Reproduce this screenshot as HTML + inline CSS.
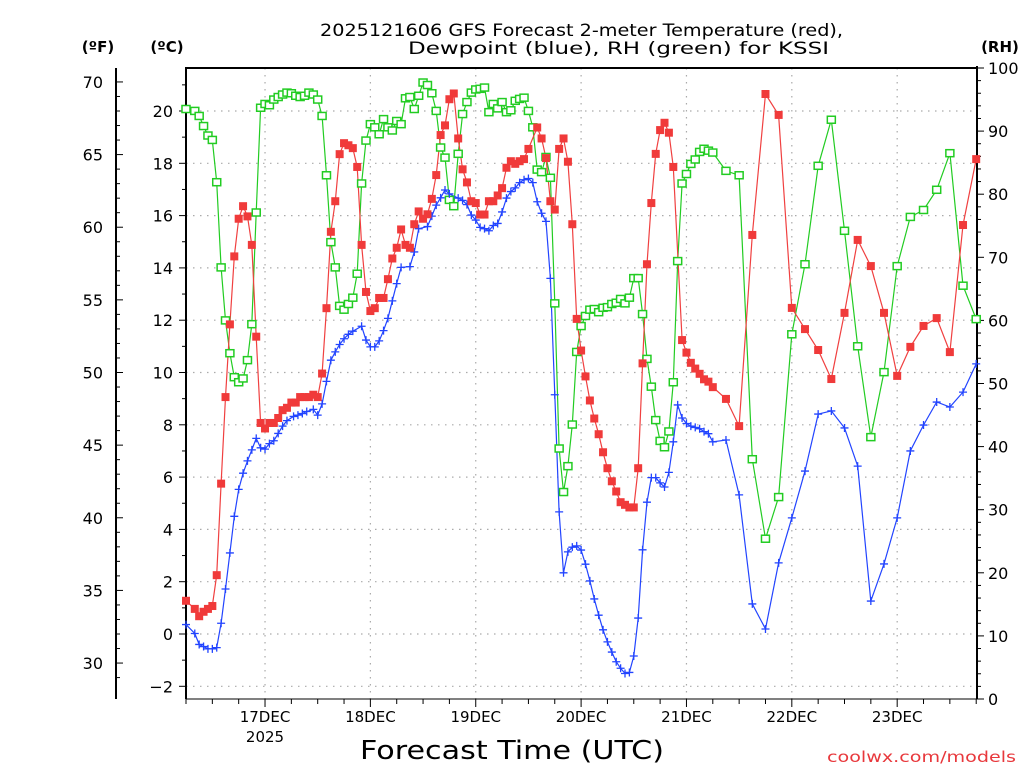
<!DOCTYPE html>
<html><head><meta charset="utf-8"><style>
html,body{margin:0;padding:0;background:#fff;}
svg{display:block;font-family:"DejaVu Sans","Liberation Sans",sans-serif;}
</style></head><body>
<svg id="chart" width="1024" height="768" viewBox="0 0 1024 768">
<text x="320" y="36" textLength="523" lengthAdjust="spacingAndGlyphs" font-size="17">2025121606 GFS Forecast 2-meter Temperature (red),</text>
<text x="408" y="54" textLength="421" lengthAdjust="spacingAndGlyphs" font-size="17">Dewpoint (blue), RH (green) for KSSI</text>
<text x="98" y="52" text-anchor="middle" font-size="15" font-weight="bold">(ºF)</text>
<text x="167" y="52" text-anchor="middle" font-size="15" font-weight="bold">(ºC)</text>
<text x="1000" y="52" text-anchor="middle" font-size="15" font-weight="bold">(RH)</text>
<text x="360" y="759" textLength="304" lengthAdjust="spacingAndGlyphs" font-size="26">Forecast Time (UTC)</text>
<text x="827" y="762" textLength="189" lengthAdjust="spacingAndGlyphs" font-size="15" fill="#e8383c">coolwx.com/models</text>
<g id="grid"></g><g id="axes"></g><g id="series"></g>
</svg>
<script>
const dayLabels = ["17DEC","18DEC","19DEC","20DEC","21DEC","22DEC","23DEC"];
const dayHours = [18,42,66,90,114,138,162];
const cTicks = [-2,0,2,4,6,8,10,12,14,16,18,20];
const fTicks = [30,35,40,45,50,55,60,65,70];
const rhTicks = [0,10,20,30,40,50,60,70,80,90,100];

const tempHours = [0,2,3,4,5,6,7,8,9,10,11,12,13,14,15,16,17,18,19,20,21,22,23,24,25,26,27,28,29,30,31,32,33,34,35,36,37,38,39,40,41,42,43,44,45,46,47,48,49,50,51,52,53,54,55,56,57,58,59,60,61,62,63,64,65,66,67,68,69,70,71,72,73,74,75,76,77,78,80,81,82,83,84,85,86,87,88,89,90,91,92,93,94,95,96,97,98,99,100,101,102,103,104,105,106,107,108,109,110,111,113,114,115,116,117,118,119,120,123,126,129,132,135,138,141,144,147,150,153,156,159,162,165,168,171,174,177,180];
const tempC = [1.27,0.96,0.68,0.85,0.96,1.07,2.25,5.75,9.06,11.84,14.44,15.88,16.36,15.97,14.88,11.37,8.07,7.86,8.07,8.07,8.26,8.56,8.65,8.85,8.85,9.06,9.06,9.06,9.15,9.06,9.96,12.46,15.38,16.55,18.35,18.77,18.69,18.58,17.86,14.88,13.08,12.35,12.46,12.85,12.85,13.57,14.36,14.77,15.47,14.88,14.77,15.67,16.16,15.88,16.05,16.64,17.55,19.08,19.45,20.45,20.67,18.95,17.77,17.27,16.55,16.48,16.04,16.04,16.55,16.55,16.77,17.05,17.83,18.08,17.98,18.08,18.16,18.55,19.37,18.95,18.2,16.55,16.23,18.55,18.95,18.06,15.67,12.05,10.84,9.85,8.93,8.24,7.64,6.95,6.34,5.84,5.45,5.04,4.94,4.84,4.84,6.34,10.35,14.14,16.48,18.36,19.27,19.55,19.17,17.86,11.24,10.76,10.37,10.15,9.95,9.74,9.65,9.44,8.99,7.95,15.26,20.65,19.85,12.47,11.66,10.86,9.75,12.28,15.07,14.07,12.28,9.87,10.98,11.78,12.08,10.78,15.64,18.16];

const dewHours = [0,2,3,4,5,6,7,8,9,10,11,12,13,14,15,16,17,18,19,20,21,22,23,24.5,25.5,26.5,27.5,29,30,31,32,33,34,35,36,37,38,40,41,42,43,44,45,46,47,48,49,51,52,53,55,56,57,58,59,60,62,63,64,65,66,67,68,69,70,71,72,73,74,75,76,77,78,79,80,81,82,83,84,85,86,87,88,89,90,91,92,93,94,95,96,97,98,99,100,101,102,103,104,105,106,107,108,109,110,111,112,113,114,115,116,117,118,119,120,123,126,129,132,135,138,141,144,147,150,153,156,159,162,165,168,171,174,177,180];
const dewC = [0.36,0.02,-0.4,-0.48,-0.57,-0.57,-0.52,0.41,1.72,3.1,4.5,5.53,6.15,6.62,7.04,7.48,7.12,7.07,7.28,7.39,7.67,7.95,8.16,8.32,8.37,8.43,8.51,8.59,8.37,8.8,9.66,10.47,10.79,11.07,11.29,11.46,11.58,11.77,11.24,10.98,10.98,11.21,11.6,12.07,12.74,13.4,14.02,14.05,14.61,15.5,15.58,15.98,16.4,16.68,16.98,16.83,16.67,16.58,16.42,16.02,15.83,15.55,15.5,15.42,15.62,15.7,16.14,16.67,16.92,17.06,17.26,17.37,17.42,17.26,16.53,16.09,15.78,13.6,9.15,4.67,2.34,3.14,3.32,3.37,3.21,2.67,2.03,1.34,0.72,0.16,-0.3,-0.69,-1.06,-1.31,-1.51,-1.47,-0.84,0.61,3.22,5.04,5.98,5.98,5.78,5.62,6.18,7.35,8.76,8.26,8.05,7.95,7.9,7.85,7.74,7.66,7.35,7.42,5.32,1.15,0.19,2.72,4.44,6.23,8.41,8.53,7.88,6.42,1.26,2.68,4.44,7.0,7.99,8.87,8.68,9.25,10.33];

const rhHours = [0,2,3,4,5,6,7,8,9,10,11,12,13,14,15,16,17,18,19,20,21,22,23,24,25,26,27,28,29,30,31,32,33,34,35,36,37,38,39,40,41,42,43,44,45,46,47,48,49,50,51,52,53,54,55,56,57,58,59,60,61,62,63,64,65,66,67,68,69,70,71,72,73,74,75,76,77,78,79,80,81,82,83,84,85,86,87,88,89,90,91,92,93,94,95,96,97,98,99,100,101,102,103,104,105,106,107,108,109,110,111,112,113,114,115,116,117,118,119,120,123,126,129,132,135,138,141,144,147,150,153,156,159,162,165,168,171,174,177,180];
const rhVals = [93.5,93.2,92.4,90.8,89.3,88.6,81.9,68.4,60.0,54.8,51.0,50.2,50.8,53.7,59.4,77.1,93.7,94.3,94.1,95.0,95.4,95.8,96.1,96.0,95.6,95.4,95.6,96.1,95.8,95.0,92.4,83.0,72.4,68.4,62.3,61.7,62.6,63.6,67.4,81.7,88.5,91.1,90.6,89.5,91.9,90.6,90.1,91.6,91.1,95.2,95.4,93.5,95.6,97.7,97.3,96.0,93.2,87.4,85.8,79.1,78.1,86.4,92.7,94.6,96.1,96.6,96.7,96.9,93.0,94.3,93.6,94.6,93.0,93.3,94.8,95.1,95.3,93.2,90.6,83.9,83.5,85.9,82.6,62.7,39.7,32.8,36.9,43.5,55.0,59.1,60.7,61.7,61.8,61.3,62.0,62.1,62.6,62.8,63.4,62.7,63.6,66.7,66.7,61.0,53.9,49.5,44.2,40.9,39.9,42.4,50.2,69.4,81.7,83.2,84.8,85.5,86.7,87.2,86.9,86.6,83.7,83.0,38.0,25.4,32.0,57.8,68.9,84.5,91.8,74.2,55.9,41.5,51.8,68.6,76.4,77.5,80.7,86.5,65.5,60.2];

const L=186,R=977,T=68,B=699;
const xH = h => L + h*4.39;
const yC = c => 634 - c*26.15;
const yF = f => yC((f-32)*5/9);
const yRH = r => B - r*(B-T)/100;
const NS="http://www.w3.org/2000/svg";
function mk(tag, attrs, parent){const e=document.createElementNS(NS,tag);for(const k in attrs)e.setAttribute(k,attrs[k]);parent.appendChild(e);return e;}
const grid=document.getElementById('grid'), axes=document.getElementById('axes'), ser=document.getElementById('series');

cTicks.forEach(c=>{const y=yC(c);if(y<T||y>B)return;
  const g=mk('line',{x1:L,x2:R,y1:y,y2:y,stroke:'#aaa','stroke-width':1.2,'stroke-dasharray':'1.5 5.5'},grid);
  
  });
dayHours.forEach(h=>{const x=xH(h);
  const g=mk('line',{x1:x,x2:x,y1:T,y2:B,stroke:'#aaa','stroke-width':1.2,'stroke-dasharray':'1.5 5.5'},grid);
  
  });

const fr=mk('path',{d:`M${L},${B} L${L},${T} L${R},${T}`,fill:'none',stroke:'#000','stroke-width':2},axes);


const ra=mk('line',{x1:R,x2:R,y1:T-2,y2:B,stroke:'#000','stroke-width':2},axes);


const ba=mk('line',{x1:L,x2:R,y1:B,y2:B,stroke:'#000','stroke-width':1},axes);


const fa=mk('line',{x1:116,x2:116,y1:T,y2:B,stroke:'#000','stroke-width':2},axes);



for(let c=-2;c<=21;c+=1){const y=yC(c);mk('line',{x1:L-(c%2===0?7:4),x2:L,y1:y,y2:y,stroke:'#000'},axes);}
cTicks.forEach(c=>{const t=mk('text',{x:173,y:yC(c)+6,'text-anchor':'end','font-size':16},axes);t.textContent=c<0?'\u2212'+(-c):c;
  
  });
for(let f=29;f<=71;f++){const y=yF(f);if(y<T||y>B)continue;mk('line',{x1:116,x2:116+(f%5===0?7:4),y1:y,y2:y,stroke:'#000'},axes);}
fTicks.forEach(f=>{const t=mk('text',{x:103,y:yF(f)+6,'text-anchor':'end','font-size':16},axes);t.textContent=f;
  
  });
for(let r=0;r<=100;r+=2){const y=yRH(r);mk('line',{x1:R,x2:R+(r%10===0?7:4),y1:y,y2:y,stroke:'#000'},axes);}
rhTicks.forEach(r=>{const t=mk('text',{x:988,y:yRH(r)+6,'font-size':16},axes);t.textContent=r;
  
  });
for(let h=0;h<=180;h+=6){const x=xH(h);mk('line',{x1:x,x2:x,y1:B,y2:B+((h-18)%24===0?8:5),stroke:'#000'},axes);}
dayHours.forEach((h,i)=>{const t=mk('text',{x:xH(h),y:722,'text-anchor':'middle','font-size':15},axes);t.textContent=dayLabels[i];
  
  });
const yr=mk('text',{x:xH(18),y:742,'text-anchor':'middle','font-size':15},axes);yr.textContent='2025';



function line(hours, vals, yf, color, name){
  const pts=hours.map((h,i)=>xH(h).toFixed(1)+','+yf(vals[i]).toFixed(1)).join(' ');
  const p=mk('polyline',{points:pts,fill:'none',stroke:color,'stroke-width':1.2},ser);
  
  
}
line(rhHours,rhVals,yRH,'#22cc22','rh-line');
line(dewHours,dewC,yC,'#2244ff','dewpoint-line');
line(tempHours,tempC,yC,'#f04040','temperature-line');
rhHours.forEach((h,i)=>{const r=mk('rect',{x:xH(h)-4,y:yRH(rhVals[i])-3.5,width:8,height:7,fill:'#fff',stroke:'#22cc22','stroke-width':1.5},ser);
  
  });
dewHours.forEach((h,i)=>{const x=xH(h),y=yC(dewC[i]);const p=mk('path',{d:`M${x-4},${y}H${x+4}M${x},${y-4}V${y+4}`,stroke:'#2244ff','stroke-width':1.3},ser);
  
  });
tempHours.forEach((h,i)=>{const r=mk('rect',{x:xH(h)-4,y:yC(tempC[i])-4,width:8,height:8,fill:'#f03a3a'},ser);
  
  });
</script>
</body></html>
